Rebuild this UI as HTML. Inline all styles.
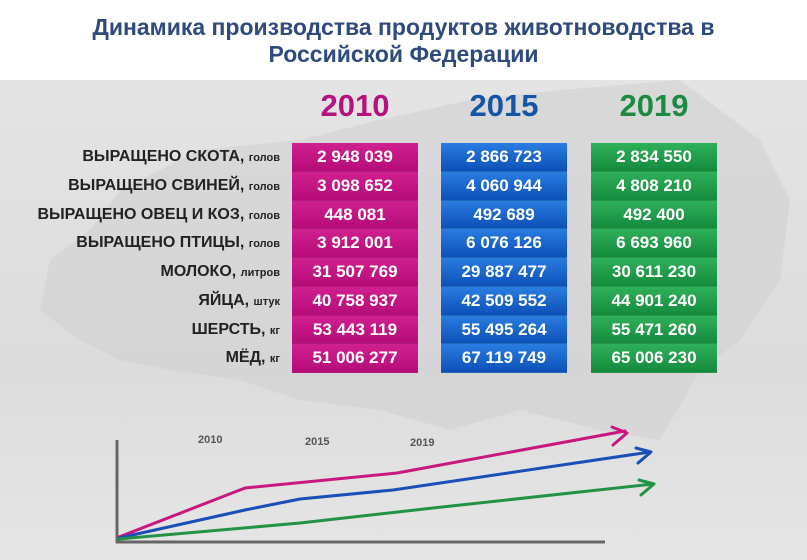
<!DOCTYPE html>
<html><head><meta charset="utf-8"><style>
body{margin:0;width:807px;height:560px;overflow:hidden;background:#fff;font-family:"Liberation Sans",sans-serif;position:relative}
.t{position:absolute;left:0;width:807px;text-align:center;color:#2f4a7c;font-weight:bold;font-size:23px}
.bg{position:absolute;left:0;top:80px;width:807px;height:480px;background:linear-gradient(#e4e4e4,#dcdcdc 60%,#e6e6e6)}
.col{position:absolute;top:143px;width:126px;height:230px}
.row{height:28.75px;line-height:28px;text-align:center;color:#fff;font-weight:bold;font-size:17px;box-sizing:border-box;border-bottom:1px solid rgba(0,0,0,.15)}
.m .row{background:linear-gradient(#d0208f,#b50c78)}
.b .row{background:linear-gradient(#2a7de0,#0c50b8)}
.g .row{background:linear-gradient(#2fb05a,#158a3e)}
.yr{position:absolute;top:88px;width:126px;text-align:center;font-weight:bold;font-size:31px}
.lab{position:absolute;left:0;width:280px;text-align:right;font-weight:bold;font-size:16px;color:#222;height:28.75px;line-height:28px;white-space:nowrap}
.lab small{font-size:11px;font-weight:bold}
.ax{position:absolute;font-size:11px;font-weight:bold;color:#555}
</style></head><body>
<div class="t" style="top:14px">Динамика производства продуктов животноводства в</div>
<div class="t" style="top:41px">Российской Федерации</div>
<div class="bg"></div>
<svg style="position:absolute;left:0;top:80px" width="807" height="480">
<path d="M120 110 L200 70 L300 60 L380 40 L470 20 L560 10 L680 0 L720 30 L760 60 L790 120 L780 200 L740 260 L700 290 L660 360 L600 350 L520 330 L450 350 L380 330 L300 320 L240 300 L170 290 L120 280 L80 260 L40 230 L50 180 L90 150 Z" fill="#cfcfcf" opacity=".55"/>
</svg>
<div class="yr" style="left:292px;color:#b8117f">2010</div>
<div class="yr" style="left:441px;color:#1555a8">2015</div>
<div class="yr" style="left:591px;color:#1d8a42">2019</div>
<div class="lab" style="top:143px">ВЫРАЩЕНО СКОТА, <small>голов</small></div>
<div class="lab" style="top:171.75px">ВЫРАЩЕНО СВИНЕЙ, <small>голов</small></div>
<div class="lab" style="top:200.5px">ВЫРАЩЕНО ОВЕЦ И КОЗ, <small>голов</small></div>
<div class="lab" style="top:229.25px">ВЫРАЩЕНО ПТИЦЫ, <small>голов</small></div>
<div class="lab" style="top:258px">МОЛОКО, <small>литров</small></div>
<div class="lab" style="top:286.75px">ЯЙЦА, <small>штук</small></div>
<div class="lab" style="top:315.5px">ШЕРСТЬ, <small>кг</small></div>
<div class="lab" style="top:344.25px">МЁД, <small>кг</small></div>
<div class="col m" style="left:292px"><div class="row">2 948 039</div><div class="row">3 098 652</div><div class="row">448 081</div><div class="row">3 912 001</div><div class="row">31 507 769</div><div class="row">40 758 937</div><div class="row">53 443 119</div><div class="row">51 006 277</div></div>
<div class="col b" style="left:441px"><div class="row">2 866 723</div><div class="row">4 060 944</div><div class="row">492 689</div><div class="row">6 076 126</div><div class="row">29 887 477</div><div class="row">42 509 552</div><div class="row">55 495 264</div><div class="row">67 119 749</div></div>
<div class="col g" style="left:591px"><div class="row">2 834 550</div><div class="row">4 808 210</div><div class="row">492 400</div><div class="row">6 693 960</div><div class="row">30 611 230</div><div class="row">44 901 240</div><div class="row">55 471 260</div><div class="row">65 006 230</div></div>
<div class="ax" style="left:198px;top:434px">2010</div>
<div class="ax" style="left:305px;top:436px">2015</div>
<div class="ax" style="left:410px;top:437px">2019</div>
<svg style="position:absolute;left:0;top:0" width="807" height="560">
<line x1="117" y1="440" x2="117" y2="543" stroke="#666" stroke-width="3"/>
<line x1="116" y1="542" x2="605" y2="542" stroke="#666" stroke-width="3"/>
<g fill="none" stroke-width="3" stroke-linejoin="round" stroke-linecap="round">
<polyline points="119,537 245,488 397,473 625,431" stroke="#c8187f"/>
<polyline points="612,427 627,433 613,445" stroke="#c8187f"/>
<polyline points="119,538 245,510 300,499 393,490 650,452" stroke="#1a4fb8"/>
<polyline points="636,448 651,452 638,463" stroke="#1a4fb8"/>
<polyline points="119,539 300,523 433,508 653,484" stroke="#229245"/>
<polyline points="639,480 654,484 641,495" stroke="#229245"/>
</g>
</svg>
</body></html>
